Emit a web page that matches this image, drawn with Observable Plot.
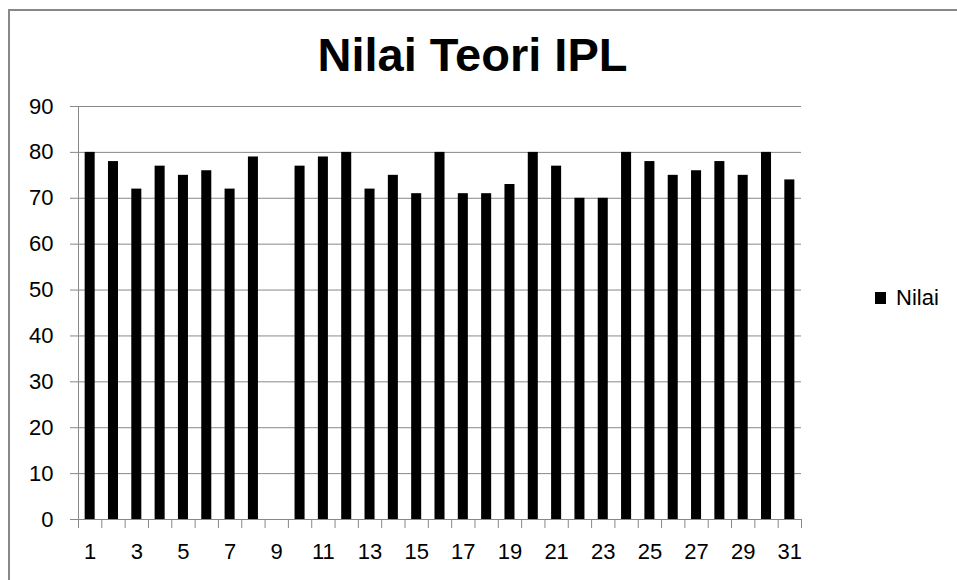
<!DOCTYPE html>
<html>
<head>
<meta charset="utf-8">
<script src="https://cdn.jsdelivr.net/npm/d3@7"></script>
<script src="https://cdn.jsdelivr.net/npm/@observablehq/plot@0.6"></script>
<style>
  html, body { margin: 0; padding: 0; background: #fff; }
  #wrap { position: relative; width: 957px; height: 580px; overflow: hidden; font-family: "Liberation Sans", Arial, sans-serif; }
  #frame { position: absolute; left: 8px; top: 9px; width: 1000px; height: 1000px; border-left: 2px solid #888; border-top: 2px solid #888; }
  #title { position: absolute; left: 0; width: 945px; top: 27px; text-align: center; font-weight: bold; font-size: 47px; line-height: 56px; color: #000; }
  #chart { position: absolute; left: 0; top: 90px; }
  #legend { position: absolute; left: 875px; top: 285px; font-size: 22px; line-height: 26px; color: #000; display: flex; align-items: center; }
  #legend .sw { width: 11px; height: 12px; background: #000; margin-right: 10px; }
</style>
</head>
<body>
<div id="wrap">
  <div id="frame"></div>
  <div id="title">Nilai Teori IPL</div>
  <div id="chart"></div>
  <div id="legend"><span class="sw"></span><span>Nilai</span></div>
</div>
<script>
const seriesName = "Nilai";
const days = [1,2,3,4,5,6,7,8,9,10,11,12,13,14,15,16,17,18,19,20,21,22,23,24,25,26,27,28,29,30,31];
const values = [80,78,72,77,75,76,72,79,null,77,79,80,72,75,71,80,71,71,73,80,77,70,70,80,78,75,76,78,75,80,74];
const yTicks = [0,10,20,30,40,50,60,70,80,90];
const xTickLabels = [1,3,5,7,9,11,13,15,17,19,21,23,25,27,29,31];

const data = days.map((d, i) => ({day: d, value: values[i]}));

const W = 957, H = 490;
const mL = 78, mR = 156, mT = 16, mB = 61;
const step = (W - mL - mR) / days.length;
const plotH = H - mT - mB;

const chart = Plot.plot({
  width: W,
  height: H,
  marginLeft: mL,
  marginRight: mR,
  marginTop: mT,
  marginBottom: mB,
  style: { fontFamily: "Liberation Sans, Arial, sans-serif", color: "#000", background: "transparent" },
  x: { type: "band", domain: days, paddingInner: 0.57, paddingOuter: 0.285, round: false },
  y: { domain: [0, 90] },
  marks: [
    Plot.ruleY(yTicks, { y: d => d, stroke: "#888", strokeWidth: 1, insetLeft: -8 }),
    Plot.frame({ anchor: "left", stroke: "#888", strokeWidth: 1 }),
    Plot.barY(data.filter(d => d.value != null), { x: "day", y: "value", fill: "#000" }),
    Plot.ruleX(days, { x: d => d, dx: -step / 2, stroke: "#888", strokeWidth: 1, insetTop: plotH, insetBottom: -9 }),
    Plot.ruleX([days[days.length - 1]], { x: d => d, dx: step / 2, stroke: "#888", strokeWidth: 1, insetTop: plotH, insetBottom: -9 }),
    Plot.axisY({ ticks: yTicks, tickSize: 0, tickPadding: 25, fontSize: 22, label: null }),
    Plot.axisX({ ticks: xTickLabels, tickSize: 0, tickPadding: 24, fontSize: 22, label: null })
  ]
});
document.getElementById("chart").appendChild(chart);
</script>
</body>
</html>
